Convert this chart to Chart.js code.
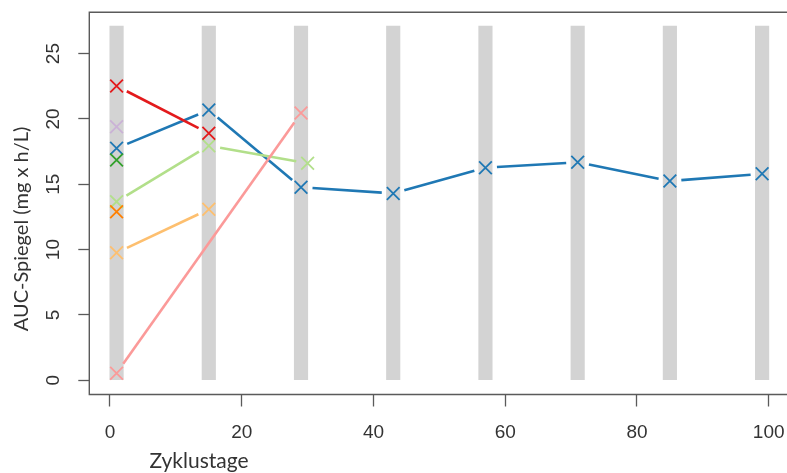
<!DOCTYPE html>
<html>
<head>
<meta charset="utf-8">
<script src="https://cdn.jsdelivr.net/npm/chart.js@4/dist/chart.umd.min.js"></script>
<style>
  html, body { margin: 0; padding: 0; background: #ffffff; }
  #wrap { width: 787px; height: 473px; position: relative; }
</style>
</head>
<body>
<div id="wrap"><canvas id="c"></canvas></div>
<script>
// Treatment cycle days (grey bands) and axis ticks
const cycleDays = [1, 15, 29, 43, 57, 71, 85, 99];
const bandTop = 27.1;
const xTicks = [0, 20, 40, 60, 80, 100];
const yTicks = [0, 5, 10, 15, 20, 25];
const xTitle = 'Zyklustage';
const yTitle = 'AUC-Spiegel (mg x h/L)';

// AUC per patient over cycle days
const daysBlue = [1, 15, 29, 43, 57, 71, 85, 99];
const aucBlue = [17.75, 20.68, 14.77, 14.3, 16.27, 16.68, 15.25, 15.8];
const daysLightGreen = [1, 15, 30];
const aucLightGreen = [13.67, 17.95, 16.6];
const daysGreen = [1];
const aucGreen = [16.86];
const daysPink = [1, 29];
const aucPink = [0.54, 20.45];
const daysRed = [1, 15];
const aucRed = [22.52, 18.9];
const daysLightOrange = [1, 15];
const aucLightOrange = [9.76, 13.08];
const daysOrange = [1];
const aucOrange = [12.9];
const daysPurple = [1];
const aucPurple = [19.4];

const series = [
  { days: daysBlue, auc: aucBlue, color: '#1F78B4' },
  { days: daysLightGreen, auc: aucLightGreen, color: '#B2DF8A' },
  { days: daysGreen, auc: aucGreen, color: '#33A02C' },
  { days: daysPink, auc: aucPink, color: '#FB9A99' },
  { days: daysRed, auc: aucRed, color: '#E31A1C' },
  { days: daysLightOrange, auc: aucLightOrange, color: '#FDBF6F' },
  { days: daysOrange, auc: aucOrange, color: '#FF7F00' },
  { days: daysPurple, auc: aucPurple, color: '#CAB2D6' }
];

// Connecting segments that stop short of each marker
const gapLines = {
  id: 'gapLines',
  beforeDatasetDraw(chart, args) {
    const ds = chart.data.datasets[args.index];
    if (!ds.joinGap) return;
    const pts = args.meta.data;
    const ctx = chart.ctx;
    const a = chart.chartArea;
    const gap = ds.joinGap;
    ctx.save();
    ctx.beginPath();
    ctx.rect(a.left, a.top, a.right - a.left, a.bottom - a.top);
    ctx.clip();
    ctx.strokeStyle = ds.borderColor;
    ctx.lineWidth = ds.joinWidth;
    ctx.lineCap = 'butt';
    for (let i = 1; i < pts.length; i++) {
      const p0 = pts[i - 1], p1 = pts[i];
      const dx = p1.x - p0.x, dy = p1.y - p0.y;
      const len = Math.hypot(dx, dy);
      if (len <= 2 * gap) continue;
      const ux = dx / len, uy = dy / len;
      ctx.beginPath();
      ctx.moveTo(p0.x + ux * gap, p0.y + uy * gap);
      ctx.lineTo(p1.x - ux * gap, p1.y - uy * gap);
      ctx.stroke();
    }
    ctx.restore();
  }
};

// Plot frame and axis titles
const frameAndTitles = {
  id: 'frameAndTitles',
  afterDraw(chart) {
    const ctx = chart.ctx;
    const a = chart.chartArea;
    ctx.save();
    ctx.strokeStyle = '#5a5a5a';
    ctx.lineWidth = 1.4;
    ctx.beginPath();
    ctx.moveTo(chart.width + 2, a.top);
    ctx.lineTo(a.left, a.top);
    ctx.lineTo(a.left, a.bottom);
    ctx.lineTo(chart.width + 2, a.bottom);
    ctx.stroke();

    ctx.fillStyle = '#333333';
    ctx.font = '21px Lato';
    ctx.textAlign = 'center';
    ctx.textBaseline = 'alphabetic';
    ctx.fillText(xTitle, 199, 468);

    ctx.font = '20px Lato';
    ctx.translate(28, 229);
    ctx.rotate(-Math.PI / 2);
    ctx.fillText(yTitle, 0, 0);
    ctx.restore();
  }
};

const datasets = [{
  type: 'bar',
  data: cycleDays.map(d => ({ x: d, y: bandTop })),
  backgroundColor: '#d3d3d3',
  borderWidth: 0,
  barThickness: 13.5,
  order: 100
}];
series.forEach((s, i) => {
  datasets.push({
    type: 'scatter',
    data: s.days.map((d, k) => ({ x: d, y: s.auc[k] })),
    borderColor: s.color,
    backgroundColor: s.color,
    pointStyle: 'crossRot',
    pointRadius: 9,
    pointBorderWidth: 1.8,
    showLine: false,
    joinGap: 11.5,
    joinWidth: 2.6,
    order: 50 - i
  });
});

const tickFont = { family: 'Liberation Sans', size: 19 };
const noPad = s => { s.paddingLeft = 0; s.paddingRight = 0; s.paddingTop = 0; s.paddingBottom = 0; };

new Chart(document.getElementById('c'), {
  type: 'scatter',
  data: { datasets },
  plugins: [gapLines, frameAndTitles],
  options: {
    responsive: true,
    maintainAspectRatio: false,
    animation: false,
    events: [],
    layout: { autoPadding: false, padding: { left: 0, right: 0, top: 12.3, bottom: 0 } },
    plugins: { legend: { display: false }, tooltip: { enabled: false } },
    scales: {
      x: {
        type: 'linear',
        min: -3.14,
        max: 102.78,
        offset: false,
        afterBuildTicks: s => { s.ticks = xTicks.map(v => ({ value: v })); },
        afterFit: s => { s.height = 78.5; noPad(s); },
        grid: { offset: false, drawOnChartArea: false, drawTicks: true, tickLength: 12, tickColor: '#5a5a5a', tickWidth: 1.3 },
        border: { display: false },
        ticks: { font: tickFont, color: '#333333', padding: 15, maxRotation: 0, autoSkip: false, callback: v => String(v) }
      },
      y: {
        type: 'linear',
        min: -1.09,
        max: 28.16,
        afterBuildTicks: s => { s.ticks = yTicks.map(v => ({ value: v })); },
        afterFit: s => { s.width = 89.3; noPad(s); },
        grid: { offset: false, drawOnChartArea: false, drawTicks: true, tickLength: 11, tickColor: '#5a5a5a', tickWidth: 1.3 },
        border: { display: false },
        ticks: { font: tickFont, color: '#333333', padding: 14, minRotation: 90, maxRotation: 90, crossAlign: 'center', autoSkip: false, callback: v => String(v) }
      }
    }
  }
});
</script>
</body>
</html>
